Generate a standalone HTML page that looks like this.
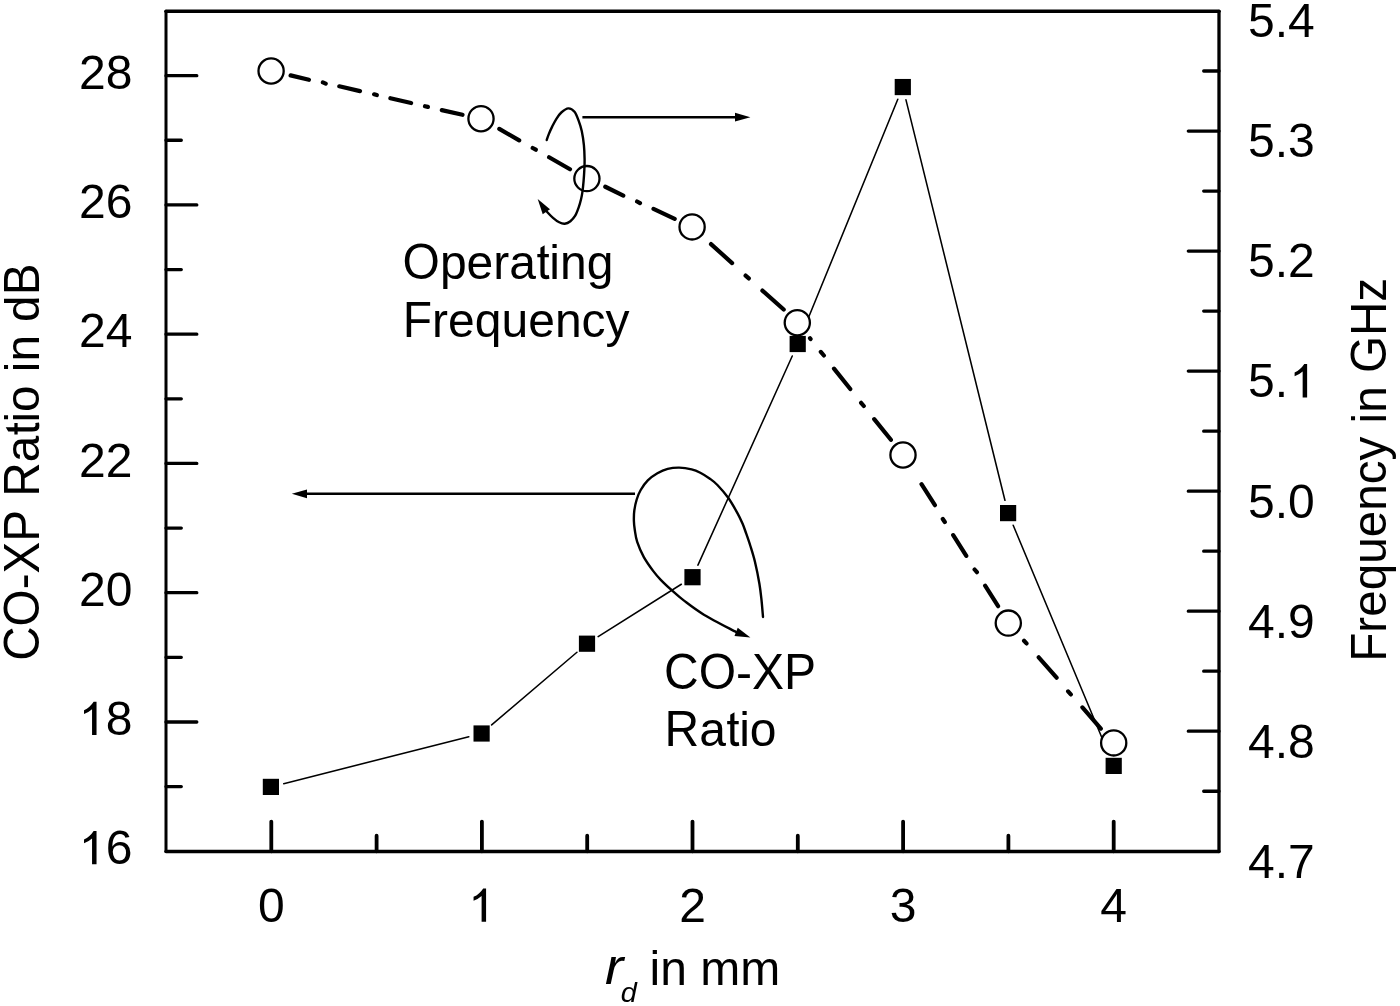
<!DOCTYPE html>
<html><head><meta charset="utf-8"><style>html,body{margin:0;padding:0;background:#fff;width:1400px;height:1006px;overflow:hidden}svg{display:block;filter:grayscale(1)}text{font-family:"Liberation Sans",sans-serif}</style></head>
<body><svg width="1400" height="1006" viewBox="0 0 1400 1006"><path d="M166,11.3V851.5" stroke="#000" stroke-width="3.0" stroke-linecap="round"/>
<path d="M1219,11.3V851.5" stroke="#000" stroke-width="3.3" stroke-linecap="round"/>
<path d="M166,11.3H1219" stroke="#000" stroke-width="3.6" stroke-linecap="round"/>
<path d="M166,851.5H1219" stroke="#000" stroke-width="3.4" stroke-linecap="round"/>
<path d="M166,786.62h15.3M166,721.98h30.8M166,657.35h15.3M166,592.71h30.8M166,528.08h15.3M166,463.44h30.8M166,398.81h15.3M166,334.17h30.8M166,269.54h15.3M166,204.90h30.8M166,140.27h15.3M166,75.63h30.8" stroke="#000" stroke-width="3.3" stroke-linecap="round" fill="none"/>
<path d="M1219,791.23h-15.3M1219,731.21h-30.7M1219,671.20h-15.3M1219,611.18h-30.7M1219,551.16h-15.3M1219,491.14h-30.7M1219,431.13h-15.3M1219,371.11h-30.7M1219,311.09h-15.3M1219,251.07h-30.7M1219,191.05h-15.3M1219,131.04h-30.7M1219,71.02h-15.3" stroke="#000" stroke-width="3.3" stroke-linecap="round" fill="none"/>
<path d="M271.30,851.25v-29.7M376.60,851.25v-15.5M481.90,851.25v-29.7M587.20,851.25v-15.5M692.50,851.25v-29.7M797.80,851.25v-15.5M903.10,851.25v-29.7M1008.40,851.25v-15.5M1113.70,851.25v-29.7" stroke="#000" stroke-width="3.8" stroke-linecap="round" fill="none"/>
<g font-family="Liberation Sans, sans-serif" font-size="48" fill="#000"><text x="132.4" y="864.35" text-anchor="end">6</text><path transform="translate(79.00,864.35) scale(0.023438,-0.023438)" d="M748,0L557,0L557,1103Q430,985 214,900L214,1062Q470,1180 625,1423L748,1423Z"/><text x="132.4" y="735.08" text-anchor="end">8</text><path transform="translate(79.00,735.08) scale(0.023438,-0.023438)" d="M748,0L557,0L557,1103Q430,985 214,900L214,1062Q470,1180 625,1423L748,1423Z"/><text x="132.4" y="605.81" text-anchor="end">20</text><text x="132.4" y="476.54" text-anchor="end">22</text><text x="132.4" y="347.27" text-anchor="end">24</text><text x="132.4" y="218.00" text-anchor="end">26</text><text x="132.4" y="88.73" text-anchor="end">28</text><text x="1248" y="877.98">4.7</text><text x="1248" y="757.84">4.8</text><text x="1248" y="637.70">4.9</text><text x="1248" y="517.56">5.0</text><text x="1248" y="397.42">5.</text><path transform="translate(1289.60,397.42) scale(0.023438,-0.023438)" d="M748,0L557,0L557,1103Q430,985 214,900L214,1062Q470,1180 625,1423L748,1423Z"/><text x="1248" y="277.28">5.2</text><text x="1248" y="157.14">5.3</text><text x="1248" y="37.00">5.4</text><text x="271.30" y="921.5" text-anchor="middle">0</text><path transform="translate(468.55,921.74) scale(0.023438,-0.023438)" d="M748,0L557,0L557,1103Q430,985 214,900L214,1062Q470,1180 625,1423L748,1423Z"/><text x="692.50" y="921.5" text-anchor="middle">2</text><text x="903.10" y="921.5" text-anchor="middle">3</text><text x="1113.70" y="921.5" text-anchor="middle">4</text></g>
<path d="M283.70,783.66L468.80,736.74M491.65,724.94L576.95,652.26M598.17,636.66L681.33,584.24M697.93,565.17L792.27,356.03M802.70,331.78L897.80,99.27M905.97,99.86L1004.93,500.29M1013.19,525.28L1108.61,753.72" stroke="#000" stroke-width="1.55" stroke-linecap="round" fill="none"/>
<path d="M290.60,75.40L308.90,79.80M322.90,82.40L325.70,83.60M339.30,86.30L360.00,91.10M374.10,94.30L376.80,95.10M390.40,98.20L411.10,103.00M425.00,106.20L427.90,106.90M441.80,110.10L462.50,114.80M499.30,128.90L519.20,140.40M532.70,148.00L535.80,149.70M549.10,157.30L570.00,169.20M605.30,186.75L623.30,195.60M637.10,201.50L640.00,203.10M653.50,208.90L674.70,218.90M711.00,244.10L732.10,263.10M745.60,275.60L748.80,278.40M762.40,290.60L783.70,309.50M810.00,338.20L810.60,339.00M820.80,351.90L823.90,355.50M834.00,368.60L850.30,389.00M861.10,402.80L863.80,406.00M874.20,419.10L890.90,439.80M921.50,484.20L934.90,505.20M942.80,519.00L944.80,522.00M953.20,535.10L966.30,555.90M974.60,569.50L976.90,572.20M985.10,585.70L998.10,606.20M1024.05,640.80L1026.50,643.40M1038.70,657.30L1056.60,677.70M1068.10,691.40L1070.80,694.40M1082.40,707.40L1100.80,728.60" stroke="#000" stroke-width="4.2" stroke-linecap="round" fill="none"/>
<g fill="#000"><rect x="262.80" y="778.80" width="16.2" height="16.2"/><rect x="473.50" y="725.40" width="16.2" height="16.2"/><rect x="578.90" y="635.60" width="16.2" height="16.2"/><rect x="684.40" y="569.10" width="16.2" height="16.2"/><rect x="789.60" y="335.90" width="16.2" height="16.2"/><rect x="894.70" y="78.95" width="16.2" height="16.2"/><rect x="1000.00" y="505.00" width="16.2" height="16.2"/><rect x="1105.60" y="757.80" width="16.2" height="16.2"/></g>
<g fill="#fff" stroke="#000" stroke-width="2.3"><circle cx="271.1" cy="71" r="12.6"/><circle cx="481" cy="118.7" r="12.6"/><circle cx="586.9" cy="178.6" r="12.6"/><circle cx="692.1" cy="226.9" r="12.6"/><circle cx="797.3" cy="322.7" r="12.6"/><circle cx="903" cy="455.0" r="12.6"/><circle cx="1008.3" cy="623.1" r="12.6"/><circle cx="1113.7" cy="742.9" r="12.6"/></g>
<path d="M546.70,140.00C547.05,139.02 547.87,136.37 548.80,134.10C549.73,131.83 551.03,128.95 552.30,126.40C553.57,123.85 554.90,121.12 556.40,118.80C557.90,116.48 559.32,114.23 561.30,112.50C563.28,110.77 566.10,108.52 568.30,108.40C570.50,108.28 572.77,109.72 574.50,111.80C576.23,113.88 577.48,117.65 578.70,120.90C579.92,124.15 580.93,127.25 581.80,131.30C582.67,135.35 583.43,140.55 583.90,145.20C584.37,149.85 584.53,155.00 584.60,159.20C584.67,163.40 584.47,166.78 584.30,170.40C584.13,174.02 583.90,177.42 583.60,180.90C583.30,184.38 582.92,188.28 582.50,191.30C582.08,194.32 581.73,196.33 581.10,199.00C580.47,201.67 579.68,204.52 578.70,207.30C577.72,210.08 576.58,213.38 575.20,215.70C573.82,218.02 572.13,219.87 570.40,221.20C568.67,222.53 566.67,223.52 564.80,223.70C562.93,223.88 561.17,223.28 559.20,222.30C557.23,221.32 554.97,219.48 553.00,217.80C551.03,216.12 548.82,213.75 547.40,212.20C545.98,210.65 544.98,209.12 544.50,208.50" stroke="#000" stroke-width="2.4" fill="none" stroke-linecap="round" stroke-linejoin="round"/>
<path d="M537.70,199.00L549.98,209.17L542.72,214.13Z" fill="#000"/>
<path d="M763.00,617.00C762.75,614.17 762.10,605.55 761.50,600.00C760.90,594.45 760.48,590.03 759.40,583.70C758.32,577.37 756.50,568.28 755.00,562.00C753.50,555.72 751.90,550.83 750.40,546.00C748.90,541.17 747.32,536.73 746.00,533.00C744.68,529.27 743.95,526.95 742.50,523.60C741.05,520.25 739.68,517.20 737.30,512.90C734.92,508.60 731.52,502.45 728.20,497.80C724.88,493.15 720.45,488.18 717.40,485.00C714.35,481.82 712.75,480.75 709.90,478.70C707.05,476.65 703.35,474.27 700.30,472.70C697.25,471.13 695.12,470.15 691.60,469.30C688.08,468.45 683.18,467.67 679.20,467.60C675.22,467.53 671.33,467.95 667.70,468.90C664.07,469.85 660.72,471.38 657.40,473.30C654.08,475.22 650.58,477.62 647.80,480.40C645.02,483.18 642.55,486.82 640.70,490.00C638.85,493.18 637.77,496.05 636.70,499.50C635.63,502.95 634.77,507.12 634.30,510.70C633.83,514.28 633.82,517.78 633.90,521.00C633.98,524.22 634.25,526.52 634.80,530.00C635.35,533.48 635.72,537.43 637.20,541.90C638.68,546.37 641.02,551.93 643.70,556.80C646.38,561.67 650.42,567.22 653.30,571.10C656.18,574.98 657.93,576.92 661.00,580.10C664.07,583.28 667.92,586.82 671.70,590.20C675.48,593.58 678.33,596.32 683.70,600.40C689.07,604.48 695.18,609.43 703.90,614.70C712.62,619.97 730.65,629.12 736.00,632.00" stroke="#000" stroke-width="2.4" fill="none" stroke-linecap="round" stroke-linejoin="round"/>
<path d="M750.40,637.60L734.48,636.04L737.72,627.86Z" fill="#000"/>
<path d="M582.4,117.2H737M635,493.8H305" stroke="#000" stroke-width="2.4" fill="none"/>
<path d="M750.40,117.20L735.00,121.60L735.00,112.80Z" fill="#000"/>
<path d="M291.80,493.80L307.00,489.40L307.00,498.20Z" fill="#000"/>
<g font-family="Liberation Sans, sans-serif" fill="#000" style="font-kerning:none"><g transform="translate(402.6,279.0)"><text transform="translate(0.00,0) scale(0.9600,1)" font-size="50.0">O</text><text x="37.34" y="0" font-size="48.0">p</text><text x="64.03" y="0" font-size="48.0">e</text><text x="90.73" y="0" font-size="48.0">r</text><text x="106.71" y="0" font-size="48.0">a</text><path transform="translate(133.41,0) scale(0.023438,-0.023438)" d="M548,168L574,9Q498,-7 438,-7Q340,-7 286,24Q232,55 210,105Q188,155 188,316L188,927L56,927L56,1067L188,1067L188,1330L367,1438L367,1067L548,1067L548,927L367,927L367,306Q367,229 376.5,207Q386,185 407.5,172Q429,159 469,159Q499,159 548,168Z"/><text x="146.74" y="0" font-size="48.0">i</text><text x="157.41" y="0" font-size="48.0">n</text><text x="184.10" y="0" font-size="48.0">g</text></g><g transform="translate(402.8,336.8)"><text transform="translate(0.00,0) scale(0.9600,1)" font-size="50.0">F</text><text x="29.32" y="0" font-size="48.0">r</text><text x="45.30" y="0" font-size="48.0">e</text><text x="72.00" y="0" font-size="48.0">q</text><text x="98.70" y="0" font-size="48.0">u</text><text x="125.39" y="0" font-size="48.0">e</text><text x="152.09" y="0" font-size="48.0">n</text><text x="178.78" y="0" font-size="48.0">c</text><text x="202.78" y="0" font-size="48.0">y</text></g><g transform="translate(664.1,688.6)"><text transform="translate(0.00,0) scale(0.9600,1)" font-size="50.0">C</text><text transform="translate(34.66,0) scale(0.9600,1)" font-size="50.0">O</text><text x="72.00" y="0" font-size="48.0">-</text><text transform="translate(87.98,0) scale(0.9600,1)" font-size="50.0">X</text><text transform="translate(120.00,0) scale(0.9600,1)" font-size="50.0">P</text></g><g transform="translate(664.5,746.0)"><text transform="translate(0.00,0) scale(0.9600,1)" font-size="50.0">R</text><text x="34.66" y="0" font-size="48.0">a</text><path transform="translate(61.36,0) scale(0.023438,-0.023438)" d="M548,168L574,9Q498,-7 438,-7Q340,-7 286,24Q232,55 210,105Q188,155 188,316L188,927L56,927L56,1067L188,1067L188,1330L367,1438L367,1067L548,1067L548,927L367,927L367,306Q367,229 376.5,207Q386,185 407.5,172Q429,159 469,159Q499,159 548,168Z"/><text x="74.70" y="0" font-size="48.0">i</text><text x="85.36" y="0" font-size="48.0">o</text></g><g transform="translate(39.2,658.4) rotate(-90) translate(-2.42,0)"><text transform="translate(0.00,0) scale(0.9530,1)" font-size="50.0">C</text><text transform="translate(34.41,0) scale(0.9530,1)" font-size="50.0">O</text><text x="71.47" y="0" font-size="47.65">-</text><text transform="translate(87.34,0) scale(0.9530,1)" font-size="50.0">X</text><text transform="translate(119.12,0) scale(0.9530,1)" font-size="50.0">P</text><text transform="translate(164.15,0) scale(0.9530,1)" font-size="50.0">R</text><text x="198.56" y="0" font-size="47.65">a</text><path transform="translate(225.06,0) scale(0.023267,-0.023267)" d="M548,168L574,9Q498,-7 438,-7Q340,-7 286,24Q232,55 210,105Q188,155 188,316L188,927L56,927L56,1067L188,1067L188,1330L367,1438L367,1067L548,1067L548,927L367,927L367,306Q367,229 376.5,207Q386,185 407.5,172Q429,159 469,159Q499,159 548,168Z"/><text x="238.30" y="0" font-size="47.65">i</text><text x="248.88" y="0" font-size="47.65">o</text><text x="288.62" y="0" font-size="47.65">i</text><text x="299.21" y="0" font-size="47.65">n</text><text x="338.95" y="0" font-size="47.65">d</text><text transform="translate(365.45,0) scale(0.9530,1)" font-size="50.0">B</text></g><g transform="translate(1386.2,657.9) rotate(-90) translate(-3.9,0)"><text transform="translate(0.00,0) scale(0.9530,1)" font-size="50.0">F</text><text x="29.11" y="0" font-size="47.65">r</text><text x="44.97" y="0" font-size="47.65">e</text><text x="71.47" y="0" font-size="47.65">q</text><text x="97.98" y="0" font-size="47.65">u</text><text x="124.48" y="0" font-size="47.65">e</text><text x="150.98" y="0" font-size="47.65">n</text><text x="177.48" y="0" font-size="47.65">c</text><text x="201.30" y="0" font-size="47.65">y</text><text x="238.37" y="0" font-size="47.65">i</text><text x="248.95" y="0" font-size="47.65">n</text><text transform="translate(288.69,0) scale(0.9530,1)" font-size="50.0">G</text><text transform="translate(325.76,0) scale(0.9530,1)" font-size="50.0">H</text><text x="360.17" y="0" font-size="47.65">z</text></g><text transform="translate(605.0,983.7) scale(1.10,1)" font-size="50" font-style="italic">r</text><text transform="translate(620.8,1001.8) scale(1.05,1)" font-size="27.5" font-style="italic">d</text><g transform="translate(649.5,984.5)"><text x="0.00" y="0" font-size="48.0">i</text><text x="10.66" y="0" font-size="48.0">n</text><text x="50.70" y="0" font-size="48.0">m</text><text x="90.68" y="0" font-size="48.0">m</text></g></g></svg></body></html>
